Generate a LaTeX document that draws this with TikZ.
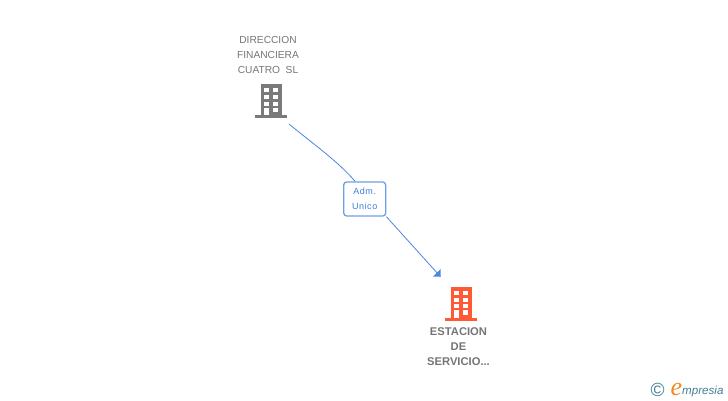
\documentclass[tikz,border=0pt]{standalone}
\usepackage{fontspec}
\setmainfont{Liberation Sans}
\newfontfamily\spaced[LetterSpace=6]{Liberation Sans}
\newfontfamily\logofont{Liberation Sans}
\newfontfamily\logoe{Liberation Serif}
\definecolor{greyb}{HTML}{7A7A7A}
\definecolor{orangeb}{HTML}{FF5A33}
\definecolor{textgrey}{HTML}{757575}
\definecolor{linkblue}{HTML}{4A86E0}
\definecolor{boxblue}{HTML}{6E9FE6}
\definecolor{roletext}{HTML}{3F7FE0}
\definecolor{logoteal}{HTML}{3F7F95}
\definecolor{logoorange}{HTML}{F08A1E}
\tikzset{
  nametext/.style={align=center,inner sep=0pt,font=\fontsize{10.2}{15}\selectfont,text=textgrey},
  boldtext/.style={align=center,inner sep=0pt,font=\fontsize{11.2}{15}\selectfont\bfseries,text=textgrey},
  rolebox/.style={draw=boxblue,line width=1.3pt,rounded corners=3pt,fill=white,minimum width=42pt,minimum height=34pt,inner sep=0pt,align=center,text=roletext,font=\fontsize{9}{15.5}\selectfont\spaced},
  link/.style={draw=linkblue,line width=0.8pt},
  bldg/.pic={
    \fill[pic actions] (0,0) rectangle (21.6,31);
    \fill[pic actions] (-5.5,31) rectangle (26.2,34);
    \foreach \wy in {4.3,11,17.7}{
      \fill[white] (3.4,\wy) rectangle (8.4,\wy+4);
      \fill[white] (12.7,\wy) rectangle (17.7,\wy+4);
    }
    \fill[white] (3.4,23.7) rectangle (8.4,31);
    \fill[white] (12.7,23.7) rectangle (17.7,28.3);
  }
}
\begin{document}
\begin{tikzpicture}[x=1pt,y=-1pt]
\useasboundingbox (0,0) rectangle (728,400);
\node[nametext] (srcname) at (268,55) {DIRECCION\\FINANCIERA\\CUATRO\ \ SL};
\pic[fill=greyb] at (260.7,84) {bldg};
\node[boldtext] (tgtname) at (458.5,347) {ESTACION\\DE\\SERVICIO...};
\pic[fill=orangeb] at (450.7,286.7) {bldg};
\coordinate (srcend) at (289,124);
\coordinate (tgtend) at (440.5,276.7);
\node[rolebox] (role) at (364.7,199) {Adm.\\Unico};
\draw[link] (srcend) .. controls (312,143) and (340,163) .. (role.north west -| 355,182);
\draw[link] (role.south east) -- (tgtend);
\fill[linkblue] (tgtend) -- (433,276.7) -- (440.5,269) -- cycle;
\node[inner sep=0pt,text=logoteal,font=\fontsize{19}{19}\selectfont] (copy) at (657.5,389.5) {©};
\node[anchor=base west,inner sep=0pt,text=logoorange,font=\fontsize{26}{26}\selectfont\logoe\itshape] (loge) at (670.5,395) {e};
\node[anchor=base west,inner sep=0pt,text=logoteal,font=\fontsize{11.6}{12}\selectfont\logofont\itshape] (logo) at (682,394) {mpresia};
\end{tikzpicture}
\end{document}
